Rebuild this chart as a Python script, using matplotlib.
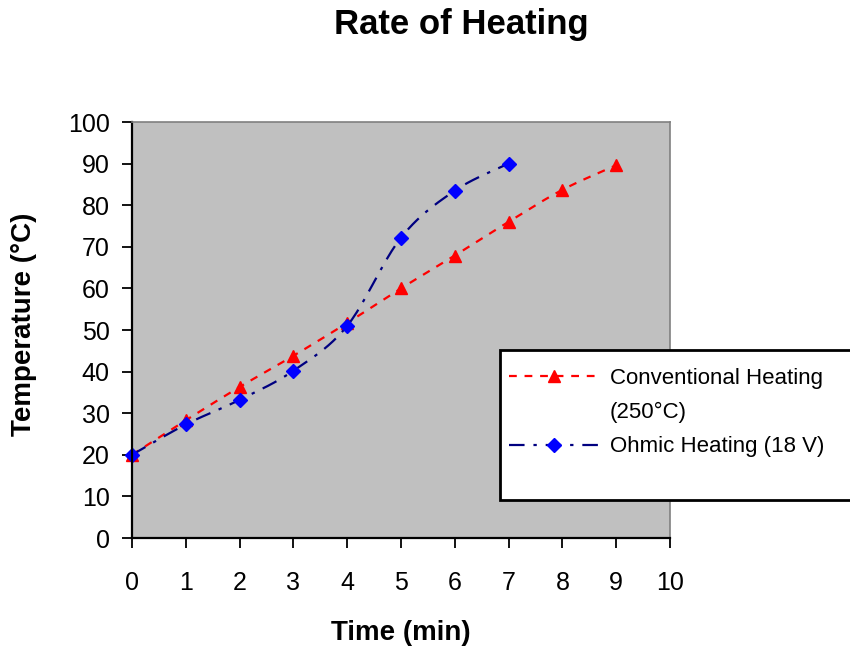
import numpy as np
import matplotlib
matplotlib.use("Agg")
import matplotlib.pyplot as plt
from matplotlib.lines import Line2D
from matplotlib.patches import Rectangle

plt.rcParams['font.family'] = ['Liberation Sans', 'DejaVu Sans']

# data
conv_time = [0, 1, 2, 3, 4, 5, 6, 7, 8, 9]
conv_temp = [20, 28.3, 36.3, 43.8, 51.7, 60, 67.9, 76, 83.7, 89.6]
ohm_time = [0, 1, 2, 3, 4, 5, 6, 7]
ohm_temp = [20, 27.3, 33.2, 40.2, 51, 72.2, 83.5, 90]

# the legend wraps the first label onto a second line
legend_rows = ["Conventional Heating", "(250°C)", "Ohmic Heating (18 V)"]

red = "#FF0000"
navy = "#000080"
blue = "#0000FF"
red_dash = (3.5, 3.5)
navy_dash = (7, 4, 1.5, 4)


def smooth(x, y, n=24):
    # Catmull-Rom through the points, like Excel's "smoothed line"
    x = np.asarray(x, float)
    y = np.asarray(y, float)
    px = np.concatenate([[x[0]], x, [x[-1]]])
    py = np.concatenate([[y[0]], y, [y[-1]]])
    xs, ys = [x[0]], [y[0]]
    t = np.linspace(0, 1, n)[1:]
    for i in range(1, len(px) - 2):
        p0, p1, p2, p3 = [np.array([px[j], py[j]]) for j in (i - 1, i, i + 1, i + 2)]
        c1 = p1 + (p2 - p0) / 6
        c2 = p2 - (p3 - p1) / 6
        for tt in t:
            b = ((1 - tt) ** 3) * p1 + 3 * ((1 - tt) ** 2) * tt * c1 + 3 * (1 - tt) * tt ** 2 * c2 + tt ** 3 * p2
            xs.append(b[0])
            ys.append(b[1])
    return np.array(xs), np.array(ys)


fig = plt.figure(figsize=(8.5, 6.48), dpi=100)
ax = fig.add_axes([132 / 850, 1 - 538 / 648, 538 / 850, 416 / 648])
ax.set_facecolor("#C0C0C0")

cx, cy = smooth(conv_time, conv_temp)
ax.plot(cx, cy, color=red, lw=1.6, dashes=red_dash)
ax.plot(conv_time, conv_temp, ls="none", marker="^", color=red, ms=8, clip_on=False)

ox, oy = smooth(ohm_time, ohm_temp)
ax.plot(ox, oy, color=navy, lw=1.6, dashes=navy_dash)
ax.plot(ohm_time, ohm_temp, ls="none", marker="D", color=blue, ms=7.5, clip_on=False)

ax.set_xlim(0, 10)
ax.set_ylim(0, 100)
ax.set_xticks(range(0, 11))
ax.set_yticks(range(0, 101, 10))
ax.tick_params(axis="both", direction="out", length=7, width=1.3, labelsize=18, colors="black")
ax.tick_params(axis="x", pad=17)
ax.tick_params(axis="y", pad=9)
for s in ("left", "bottom"):
    ax.spines[s].set_color("black")
    ax.spines[s].set_linewidth(1.6)
for s in ("top", "right"):
    ax.spines[s].set_color("#808080")
    ax.spines[s].set_linewidth(1.2)

fig.text(461 / 850, 1 - 34 / 648, "Rate of Heating", ha="center", va="baseline",
         fontsize=25, fontweight="bold")
fig.text(401 / 850, 1 - 640 / 648, "Time (min)", ha="center", va="baseline",
         fontsize=20, fontweight="bold")
fig.text(24 / 850, 1 - 324 / 648, "Temperature (°C)", ha="center", va="center",
         rotation=90, fontsize=20, fontweight="bold")

# legend box sticks out past the figure edge
fig.patches.append(Rectangle((500 / 850, 1 - 500 / 648), 380 / 850, 150 / 648,
                             transform=fig.transFigure, facecolor="white",
                             edgecolor="black", lw=2, zorder=5))
handles = [
    Line2D([], [], color=red, lw=1.6, dashes=red_dash, marker="^", ms=8),
    Line2D([], [], ls="none"),
    Line2D([], [], color=navy, lw=1.6, dashes=navy_dash, marker="D",
           mfc=blue, mec=blue, ms=7.5),
]
leg = fig.legend(handles, legend_rows, loc="upper left",
                 bbox_to_anchor=(493 / 850, 1 - 352 / 648), frameon=False,
                 fontsize=16, handlelength=4.1, handletextpad=0.45,
                 labelspacing=0.6, borderpad=0.2)
leg.set_zorder(6)

fig.savefig("out.png", dpi=100)
